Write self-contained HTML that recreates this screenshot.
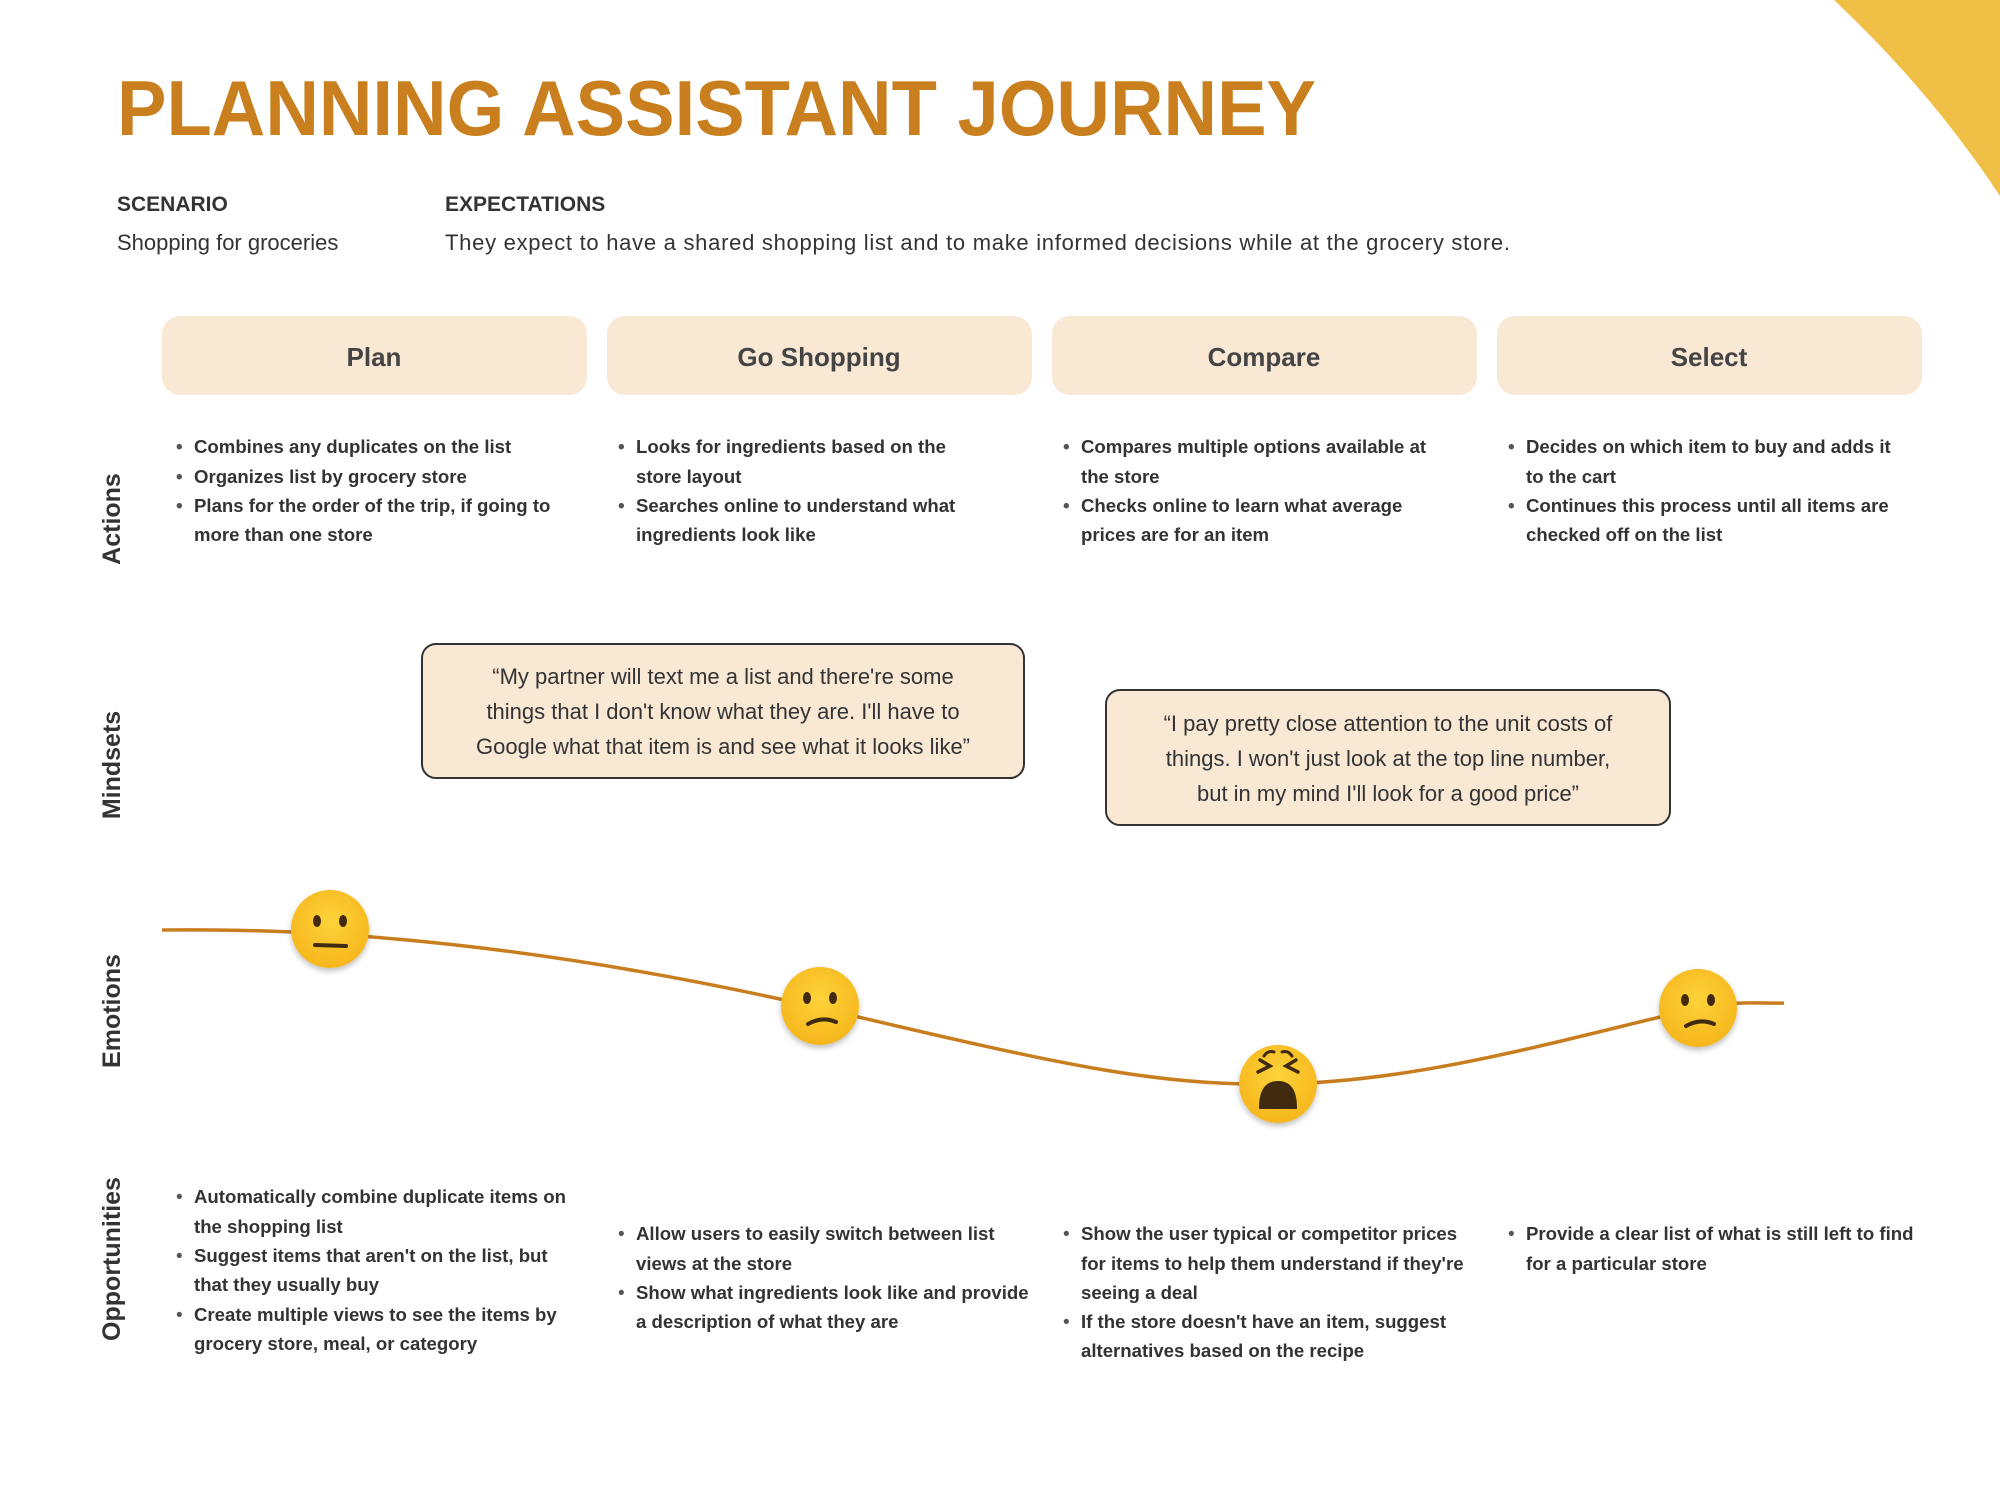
<!DOCTYPE html>
<html><head><meta charset="utf-8"><style>
html,body{margin:0;padding:0;background:#fff;}
svg{display:block}
text{font-family:"Liberation Sans",sans-serif;}
.b{font-size:18.6px;fill:#333;font-weight:bold;}
.d{font-size:19px;fill:#555;}
.q{font-size:22px;fill:#333;}
.st{font-size:26px;font-weight:bold;fill:#444;}
.side{font-size:25px;font-weight:bold;fill:#333;}
</style></head><body>
<svg width="2000" height="1500" viewBox="0 0 2000 1500" xmlns="http://www.w3.org/2000/svg">
<path d="M1834 0 Q1930 90 2000 196 L2000 0 Z" fill="#f0bf45"/>
<text x="117" y="135" font-size="78" font-weight="bold" fill="#c97f1e" textLength="1199" lengthAdjust="spacingAndGlyphs">PLANNING ASSISTANT JOURNEY</text>
<text x="117" y="211" font-size="21" font-weight="bold" fill="#333">SCENARIO</text>
<text x="117" y="250" font-size="22" fill="#333">Shopping for groceries</text>
<text x="445" y="211" font-size="21" font-weight="bold" fill="#333">EXPECTATIONS</text>
<text x="445" y="250" font-size="22" fill="#333" textLength="1065" lengthAdjust="spacing">They expect to have a shared shopping list and to make informed decisions while at the grocery store.</text>

<g fill="#f9e8d4">
<rect x="162" y="316" width="425" height="79" rx="18"/>
<rect x="607" y="316" width="425" height="79" rx="18"/>
<rect x="1052" y="316" width="425" height="79" rx="18"/>
<rect x="1497" y="316" width="425" height="79" rx="18"/>
</g>
<g class="st" text-anchor="middle">
<text x="374" y="366" class="st">Plan</text>
<text x="819" y="366" class="st">Go Shopping</text>
<text x="1264" y="366" class="st">Compare</text>
<text x="1709" y="366" class="st">Select</text>
</g>

<g class="side" text-anchor="middle">
<text class="side" transform="translate(120,519) rotate(-90)">Actions</text>
<text class="side" transform="translate(120,765) rotate(-90)">Mindsets</text>
<text class="side" transform="translate(120,1011) rotate(-90)">Emotions</text>
<text class="side" transform="translate(120,1259) rotate(-90)">Opportunities</text>
</g>

<g class="b">
<text x="176" y="453" class="d">•</text><text x="194" y="453" class="b">Combines any duplicates on the list</text>
<text x="176" y="483" class="d">•</text><text x="194" y="483" class="b">Organizes list by grocery store</text>
<text x="176" y="512" class="d">•</text><text x="194" y="512" class="b">Plans for the order of the trip, if going to</text>
<text x="194" y="541" class="b">more than one store</text>

<text x="618" y="453" class="d">•</text><text x="636" y="453" class="b">Looks for ingredients based on the</text>
<text x="636" y="483" class="b">store layout</text>
<text x="618" y="512" class="d">•</text><text x="636" y="512" class="b">Searches online to understand what</text>
<text x="636" y="541" class="b">ingredients look like</text>

<text x="1063" y="453" class="d">•</text><text x="1081" y="453" class="b">Compares multiple options available at</text>
<text x="1081" y="483" class="b">the store</text>
<text x="1063" y="512" class="d">•</text><text x="1081" y="512" class="b">Checks online to learn what average</text>
<text x="1081" y="541" class="b">prices are for an item</text>

<text x="1508" y="453" class="d">•</text><text x="1526" y="453" class="b">Decides on which item to buy and adds it</text>
<text x="1526" y="483" class="b">to the cart</text>
<text x="1508" y="512" class="d">•</text><text x="1526" y="512" class="b">Continues this process until all items are</text>
<text x="1526" y="541" class="b">checked off on the list</text>
</g>

<rect x="422" y="644" width="602" height="134" rx="14" fill="#f9e8d4" stroke="#333" stroke-width="2"/>
<g text-anchor="middle">
<text x="723" y="684" class="q">“My partner will text me a list and there're some</text>
<text x="723" y="719" class="q">things that I don't know what they are. I'll have to</text>
<text x="723" y="754" class="q">Google what that item is and see what it looks like”</text>
</g>
<rect x="1106" y="690" width="564" height="135" rx="14" fill="#f9e8d4" stroke="#333" stroke-width="2"/>
<g text-anchor="middle">
<text x="1388" y="731" class="q">“I pay pretty close attention to the unit costs of</text>
<text x="1388" y="766" class="q">things. I won't just look at the top line number,</text>
<text x="1388" y="801" class="q">but in my mind I'll look for a good price”</text>
</g>

<path d="M162 930 C 260 929, 480 930, 820 1008 C 1050 1062, 1150 1086, 1278 1084 C 1420 1082, 1560 1040, 1698 1008 C 1740 1000, 1765 1004, 1784 1003" fill="none" stroke="#c87d1e" stroke-width="3.5"/>
<defs><radialGradient id="g" cx="0.5" cy="0.4" r="0.6"><stop offset="0" stop-color="#fdd33a"/><stop offset="1" stop-color="#f6b61c"/></radialGradient>
<filter id="sh" x="-30%" y="-30%" width="160%" height="160%"><feDropShadow dx="0" dy="3" stdDeviation="3" flood-opacity="0.25"/></filter></defs>
<g filter="url(#sh)">
<circle cx="330" cy="929" r="39" fill="url(#g)"/>
<circle cx="820" cy="1006" r="39" fill="url(#g)"/>
<circle cx="1278" cy="1084" r="39" fill="url(#g)"/>
<circle cx="1698" cy="1008" r="39" fill="url(#g)"/>
</g>
<g fill="#402a10" stroke="#402a10" stroke-linecap="round">
<ellipse cx="317" cy="921" rx="4" ry="6" stroke="none"/><ellipse cx="343" cy="921" rx="4" ry="6" stroke="none"/>
<line x1="315" y1="945" x2="346" y2="946" stroke-width="4"/>
<ellipse cx="807" cy="998" rx="4" ry="6" stroke="none"/><ellipse cx="833" cy="998" rx="4" ry="6" stroke="none"/>
<path d="M808 1024 Q822 1016 836 1022" fill="none" stroke-width="4"/>
<ellipse cx="1685" cy="1000" rx="4" ry="6" stroke="none"/><ellipse cx="1711" cy="1000" rx="4" ry="6" stroke="none"/>
<path d="M1686 1026 Q1700 1018 1714 1024" fill="none" stroke-width="4"/>
<path d="M1258 1072 L1270 1066 L1260 1060" fill="none" stroke-width="3.5"/>
<path d="M1298 1072 L1286 1066 L1296 1060" fill="none" stroke-width="3.5"/>
<path d="M1260 1108 Q1260 1082 1278 1082 Q1296 1082 1296 1108 Z" stroke-width="2"/>
<path d="M1264 1056 Q1268 1050 1274 1052" fill="none" stroke-width="3"/>
<path d="M1292 1056 Q1288 1050 1282 1052" fill="none" stroke-width="3"/>
</g>

<g>
<text x="176" y="1203" class="d">•</text><text x="194" y="1203" class="b">Automatically combine duplicate items on</text>
<text x="194" y="1233" class="b">the shopping list</text>
<text x="176" y="1262" class="d">•</text><text x="194" y="1262" class="b">Suggest items that aren't on the list, but</text>
<text x="194" y="1291" class="b">that they usually buy</text>
<text x="176" y="1321" class="d">•</text><text x="194" y="1321" class="b">Create multiple views to see the items by</text>
<text x="194" y="1350" class="b">grocery store, meal, or category</text>

<text x="618" y="1240" class="d">•</text><text x="636" y="1240" class="b">Allow users to easily switch between list</text>
<text x="636" y="1270" class="b">views at the store</text>
<text x="618" y="1299" class="d">•</text><text x="636" y="1299" class="b">Show what ingredients look like and provide</text>
<text x="636" y="1328" class="b">a description of what they are</text>

<text x="1063" y="1240" class="d">•</text><text x="1081" y="1240" class="b">Show the user typical or competitor prices</text>
<text x="1081" y="1270" class="b">for items to help them understand if they're</text>
<text x="1081" y="1299" class="b">seeing a deal</text>
<text x="1063" y="1328" class="d">•</text><text x="1081" y="1328" class="b">If the store doesn't have an item, suggest</text>
<text x="1081" y="1357" class="b">alternatives based on the recipe</text>

<text x="1508" y="1240" class="d">•</text><text x="1526" y="1240" class="b">Provide a clear list of what is still left to find</text>
<text x="1526" y="1270" class="b">for a particular store</text>
</g>
</svg>
</body></html>
